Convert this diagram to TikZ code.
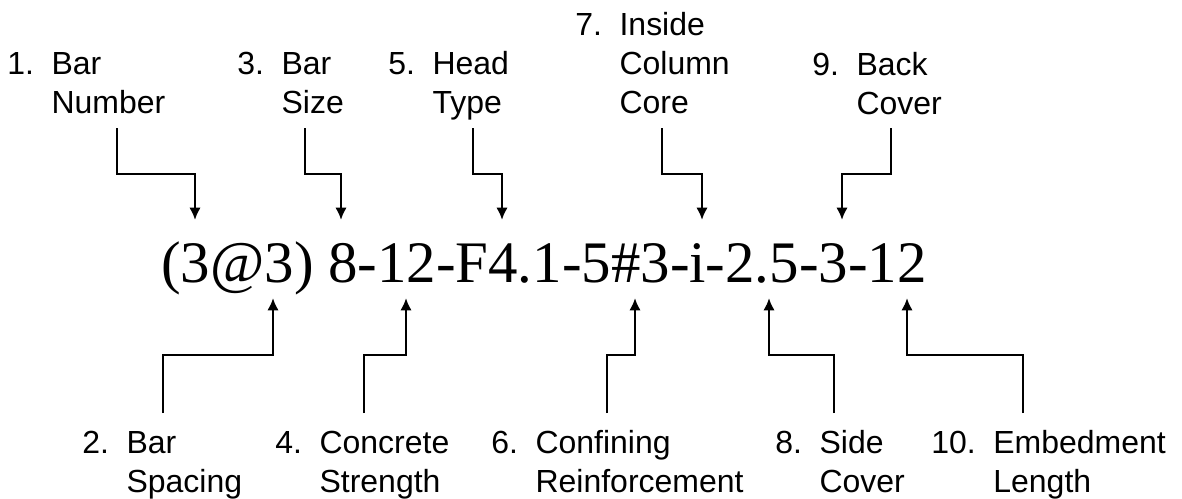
\documentclass[tikz,border=0pt]{standalone}
\usepackage{fontspec}
\setmainfont{Liberation Serif}
\newfontfamily\labfont{Liberation Sans}
\usetikzlibrary{arrows.meta}
\newcommand{\codelabel}[2]{\begin{tabular}[t]{@{}l@{\hspace{10pt}}l@{}}#1 & #2\end{tabular}}

\begin{document}
\begin{tikzpicture}[>={Latex[length=7pt,width=6.5pt]}, x=0.02cm, y=-0.02cm,
  lab/.style={anchor=base west, inner sep=0pt, font=\labfont\fontsize{18.2}{22.2}\selectfont},
  conn/.style={->, line width=1.4pt}]
\useasboundingbox (0,0) rectangle (1182,498);

\node at (161,282) (code) [anchor=base west, inner sep=0pt, font=\fontsize{33.5}{40}\selectfont] {(3@3) 8-12-F4.1-5\#3-i-2.5-3-12};

% labels above
\node at (7,74) (n1) [lab] {\codelabel{1.}{Bar\\ & Number}};
\node at (237,74) (n3) [lab] {\codelabel{3.}{Bar\\ & Size}};
\node at (388,74) (n5) [lab] {\codelabel{5.}{Head\\ & Type}};
\node at (575,35) (n7) [lab] {\codelabel{7.}{Inside\\ & Column\\ & Core}};
\node at (812,75) (n9) [lab] {\codelabel{9.}{Back\\ & Cover}};

% labels below
\node at (82,453) (n2) [lab] {\codelabel{2.}{Bar\\ & Spacing}};
\node at (275,453) (n4) [lab] {\codelabel{4.}{Concrete\\ & Strength}};
\node at (491,453) (n6) [lab] {\codelabel{6.}{Confining\\ & Reinforcement}};
\node at (775,453) (n8) [lab] {\codelabel{8.}{Side\\ & Cover}};
\node at (931,453) (n10) [lab] {\codelabel{10.}{Embedment\\ & Length}};

% arrow tips on the code
\coordinate (t1) at (195,220);
\coordinate (t3) at (341,220);
\coordinate (t5) at (502,220);
\coordinate (t7) at (702,220);
\coordinate (t9) at (842,220);
\coordinate (t2) at (273,298);
\coordinate (t4) at (406,298);
\coordinate (t6) at (635,298);
\coordinate (t8) at (769,298);
\coordinate (t10) at (907,298);

\foreach \n/\dx/\dy in {1/110/54, 3/68/54, 5/85/54, 7/87/93, 9/79/53}
  \draw[conn] ([shift={(\dx,\dy)}]n\n.base west) -- ++(0,46) -| (t\n);

\foreach \n/\dx in {2/81, 4/89, 6/116, 8/59, 10/92}
  \draw[conn] ([shift={(\dx,-40)}]n\n.base west) -- ++(0,-58) -| (t\n);
\end{tikzpicture}
\end{document}
